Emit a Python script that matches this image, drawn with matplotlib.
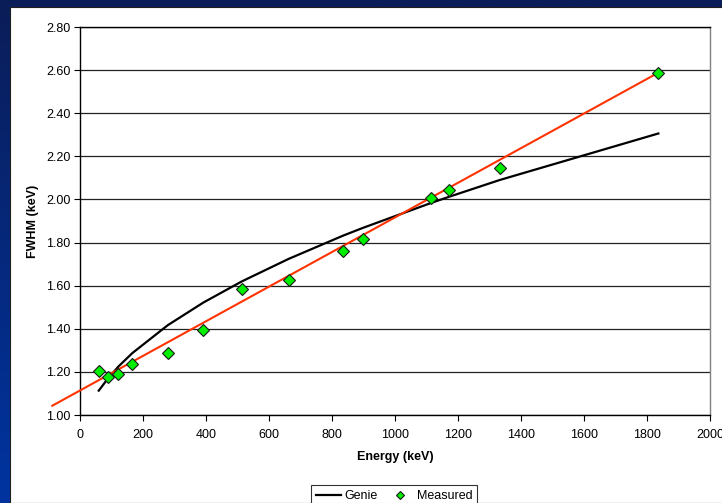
#Importing Modules
import numpy as np
import matplotlib
matplotlib.use("Agg")
import matplotlib.pyplot as plt
import matplotlib.patches as patches

plt.rcParams['font.family'] = ['Liberation Sans', 'DejaVu Sans']

#Data Values
energy = [59.5, 88, 122, 166, 279, 392, 514, 662, 835, 898, 1115, 1173, 1332, 1836]
fwhm_measured = [1.204, 1.174, 1.192, 1.238, 1.289, 1.394, 1.584, 1.626,
                 1.761, 1.818, 2.008, 2.044, 2.147, 2.588]
fwhm_genie = [1.113, 1.168, 1.225, 1.287, 1.417, 1.522, 1.620, 1.724,
              1.832, 1.868, 1.984, 2.013, 2.090, 2.306]
fit_energy = [-88, 1836]
fit_fwhm = [1.043, 2.588]
x_ticks = [0, 200, 400, 600, 800, 1000, 1200, 1400, 1600, 1800, 2000]
y_ticks = [1.00, 1.20, 1.40, 1.60, 1.80, 2.00, 2.20, 2.40, 2.60, 2.80]

W, H = 722, 503
fig = plt.figure(figsize=(W / 100, H / 100), dpi=100)

#Blue slide background with white panel
bg = fig.add_axes([0, 0, 1, 1])
grad = np.linspace(0, 1, 256).reshape(-1, 1)
cmap = matplotlib.colors.LinearSegmentedColormap.from_list("slide", ["#0b1d58", "#0034a0"])
bg.imshow(grad, cmap=cmap, aspect='auto', extent=[0, 1, 0, 1], origin='upper')
bg.add_patch(patches.Rectangle((10 / W, 0), 1, 1 - 7 / H, facecolor='white',
                               edgecolor='#202020', linewidth=0.8))
bg.set_xlim(0, 1)
bg.set_ylim(0, 1)
bg.axis('off')

#Graph Styling/Plotting
ax = fig.add_axes([80 / W, 1 - 415 / H, (710 - 80) / W, (415 - 27) / H])
ax.set_facecolor('white')
ax.set_xlim(0, 2000)
ax.set_ylim(1.0, 2.8)
ax.set_xticks(x_ticks)
ax.set_yticks(y_ticks)
ax.set_yticklabels([f"{v:.2f}" for v in y_ticks])
ax.tick_params(labelsize=9, length=4, width=0.8, color='black', pad=3)
ax.tick_params(axis='x', pad=6)
ax.yaxis.grid(True, color='#222222', linewidth=0.9)
ax.set_axisbelow(True)
for side in ['left', 'bottom', 'top']:
    ax.spines[side].set_color('black')
    ax.spines[side].set_linewidth(1.0)
ax.spines['right'].set_color('#808080')
ax.spines['right'].set_linewidth(1.0)

ax.plot(energy, fwhm_genie, color='black', linewidth=1.6, label='Genie', zorder=3)
ax.plot(energy, fwhm_measured, linestyle='none', marker='D', markersize=6,
        markerfacecolor='#00ee00', markeredgecolor='#1a1a1a', markeredgewidth=0.8,
        label='Measured', zorder=4)
ax.plot(fit_energy, fit_fwhm, color='#ff3300', linewidth=1.5, clip_on=False, zorder=3)

ax.set_xlabel("Energy (keV)", fontsize=9, fontweight='bold', labelpad=7)
ax.set_ylabel("FWHM (keV)", fontsize=9, fontweight='bold', labelpad=5)

leg = fig.legend(loc='upper center', bbox_to_anchor=(394 / W, 1 - 479 / H), ncol=2,
                 fontsize=9, frameon=True, fancybox=False, edgecolor='black',
                 handlelength=2.0, handletextpad=0.3, columnspacing=0.8,
                 borderpad=0.4, markerscale=0.7)
leg.get_frame().set_linewidth(0.8)

#Save Graph
fig.savefig("out.png", dpi=100)
